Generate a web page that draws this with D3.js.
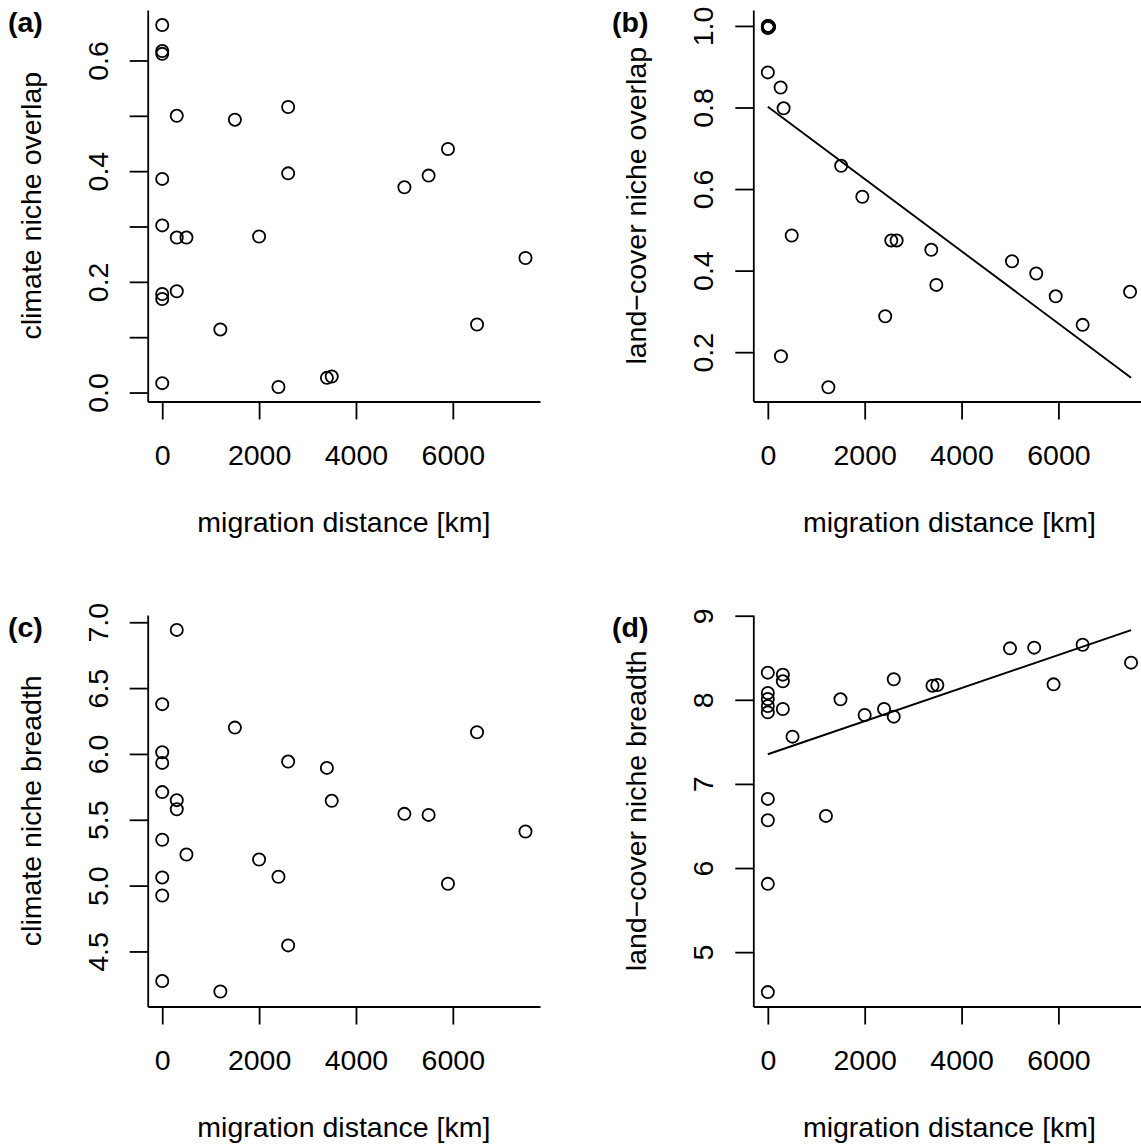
<!DOCTYPE html>
<html>
<head>
<meta charset="utf-8">
<script src="https://cdn.jsdelivr.net/npm/d3@7"></script>
<style>
  html, body { margin: 0; padding: 0; background: #fff; }
  svg { display: block; }
  text { font-family: "Liberation Sans", Arial, Helvetica, sans-serif; fill: #000; }
</style>
</head>
<body>
<svg id="fig" width="1141" height="1148"></svg>
<script>
// ---- data -----------------------------------------------------------------
const xTicks = [0, 2000, 4000, 6000];
const xLimits = [0, 7500];
const xTitle = "migration distance [km]";

const panelLabels = ["(a)", "(b)", "(c)", "(d)"];
const yTitles = [
  "climate niche overlap",
  "land\u2212cover niche overlap",
  "climate niche breadth",
  "land\u2212cover niche breadth"
];
const yLimits = [[0.010, 0.665], [0.1146, 1.0035], [4.192, 6.945], [4.526, 8.836]];
const yTicks = [
  [0, 0.1, 0.2, 0.3, 0.4, 0.5, 0.6],
  [0.2, 0.4, 0.6, 0.8, 1.0],
  [4.5, 5.0, 5.5, 6.0, 6.5, 7.0],
  [5, 6, 7, 8, 9]
];
const yTickLabels = [
  ["0.0", "", "0.2", "", "0.4", "", "0.6"],
  ["0.2", "0.4", "0.6", "0.8", "1.0"],
  ["4.5", "5.0", "5.5", "6.0", "6.5", "7.0"],
  ["5", "6", "7", "8", "9"]
];

// (a) climate niche overlap
const distA = [0, 0, 0, 300, 1500, 2600, 2600, 0, 0, 300, 500, 2000, 5000, 5500, 5900,
               7500, 0, 0, 300, 1200, 6500, 0, 2400, 3400, 3500];
const climateOverlap = [0.664, 0.612, 0.617, 0.500, 0.493, 0.516, 0.396, 0.386, 0.302, 0.280,
                        0.280, 0.282, 0.371, 0.392, 0.440, 0.243, 0.178, 0.169, 0.183, 0.114,
                        0.123, 0.017, 0.010, 0.0265, 0.029];

// (b) land-cover niche overlap
const distB = [0, 0, 10, 20, 0, 15, 25, 0, 264, 326, 1514, 1951, 493, 2549, 2660, 3375, 3479,
               2424, 5042, 5542, 5944, 6500, 7479, 271, 1250];
const landOverlap = [1.0, 0.998, 1.0, 0.997, 0.995, 0.999, 0.998, 0.886, 0.849, 0.798, 0.657,
                     0.581, 0.486, 0.474, 0.474, 0.451, 0.365, 0.288, 0.423, 0.393, 0.337,
                     0.267, 0.348, 0.190, 0.114];

// (c) climate niche breadth
const distC = [300, 0, 1500, 6500, 0, 0, 2600, 3400, 0, 300, 300, 3500, 5000, 5500, 7500,
               0, 500, 2000, 2400, 0, 0, 5900, 2600, 0, 1200];
const climateBreadth = [6.942, 6.378, 6.200, 6.165, 6.013, 5.932, 5.942, 5.894, 5.710, 5.649,
                        5.580, 5.644, 5.545, 5.537, 5.411, 5.348, 5.236, 5.198, 5.067, 5.062,
                        4.925, 5.014, 4.546, 4.275, 4.196];

// (d) land-cover niche breadth
const distD = [0, 310, 310, 0, 0, 0, 0, 310, 510, 1500, 2000, 2400, 2600, 2600, 3400, 3500,
               5000, 5500, 5900, 6500, 7500, 0, 0, 1200, 0, 0];
const landBreadth = [8.323, 8.299, 8.220, 8.081, 8.010, 7.927, 7.851, 7.891, 7.562, 8.006,
                     7.820, 7.891, 8.244, 7.800, 8.168, 8.176, 8.612, 8.620, 8.184, 8.655,
                     8.442, 6.822, 6.568, 6.620, 5.812, 4.525];

// fitted linear trends (intercept, slope per km); null = no trend drawn
const trendIntercept = [null, 0.802, null, 7.353];
const trendSlope = [null, -0.0000886, null, 0.0001968];

const panelX = [distA, distB, distC, distD];
const panelY = [climateOverlap, landOverlap, climateBreadth, landBreadth];

// ---- layout ---------------------------------------------------------------
const colLeft = [147.7, 753.3];
const rowTop = [10, 615];
const plotW = 392.3, plotH = 391.5;
const fontSize = 28.5;

const svg = d3.select("#fig");

// extend a range by 4% on each side
function padded([lo, hi]) {
  const d = (hi - lo) * 0.04;
  return [lo - d, hi + d];
}

panelLabels.forEach((label, i) => {
  const left = colLeft[i % 2], top = rowTop[Math.floor(i / 2)];
  const g = svg.append("g").attr("transform", `translate(${left},${top})`);

  const x = d3.scaleLinear().domain(padded(xLimits)).range([0, plotW]);
  const y = d3.scaleLinear().domain(padded(yLimits[i])).range([plotH, 0]);

  // x axis
  const gx = g.append("g")
    .attr("transform", `translate(0,${plotH})`)
    .call(d3.axisBottom(x).tickValues(xTicks).tickSize(18).tickSizeOuter(0)
      .tickFormat(d3.format("d")));
  gx.selectAll("text")
    .attr("y", 63.5).attr("dy", null)
    .style("font-size", fontSize + "px");

  // y axis with labels parallel to the axis
  const labels = yTickLabels[i];
  const gy = g.append("g")
    .call(d3.axisLeft(y).tickValues(yTicks[i]).tickSize(18).tickSizeOuter(0)
      .tickFormat((d, k) => labels[k]));
  gy.selectAll("text")
    .attr("x", null).attr("dy", null)
    .attr("text-anchor", "middle")
    .attr("transform", "translate(-40,0) rotate(-90)")
    .style("font-size", fontSize + "px");

  [gx, gy].forEach(ax => {
    ax.attr("font-family", null).attr("font-size", null);
    ax.selectAll("path, line").attr("stroke", "#000").attr("stroke-width", 1.8);
  });

  // axis titles
  g.append("text")
    .attr("x", plotW / 2).attr("y", plotH + 130)
    .attr("text-anchor", "middle")
    .style("font-size", fontSize + "px")
    .text(xTitle);
  g.append("text")
    .attr("transform", `translate(-107,${plotH / 2}) rotate(-90)`)
    .attr("text-anchor", "middle")
    .style("font-size", fontSize + "px")
    .text(yTitles[i]);

  // panel tag
  g.append("text")
    .attr("x", -left + (i % 2 ? 612 : 8)).attr("y", 21.5)
    .style("font-size", fontSize + "px")
    .style("font-weight", "bold")
    .text(label);

  // trend line
  if (trendIntercept[i] !== null) {
    const fit = d => trendIntercept[i] + trendSlope[i] * d;
    g.append("line")
      .attr("x1", x(xLimits[0])).attr("y1", y(fit(xLimits[0])))
      .attr("x2", x(xLimits[1])).attr("y2", y(fit(xLimits[1])))
      .attr("stroke", "#000").attr("stroke-width", 1.9);
  }

  // points
  const xs = panelX[i], ys = panelY[i];
  g.append("g").selectAll("circle")
    .data(xs.map((d, k) => [d, ys[k]]))
    .join("circle")
    .attr("cx", d => x(d[0]))
    .attr("cy", d => y(d[1]))
    .attr("r", 6.1)
    .attr("fill", "none")
    .attr("stroke", "#000")
    .attr("stroke-width", 1.8);
});
</script>
</body>
</html>
